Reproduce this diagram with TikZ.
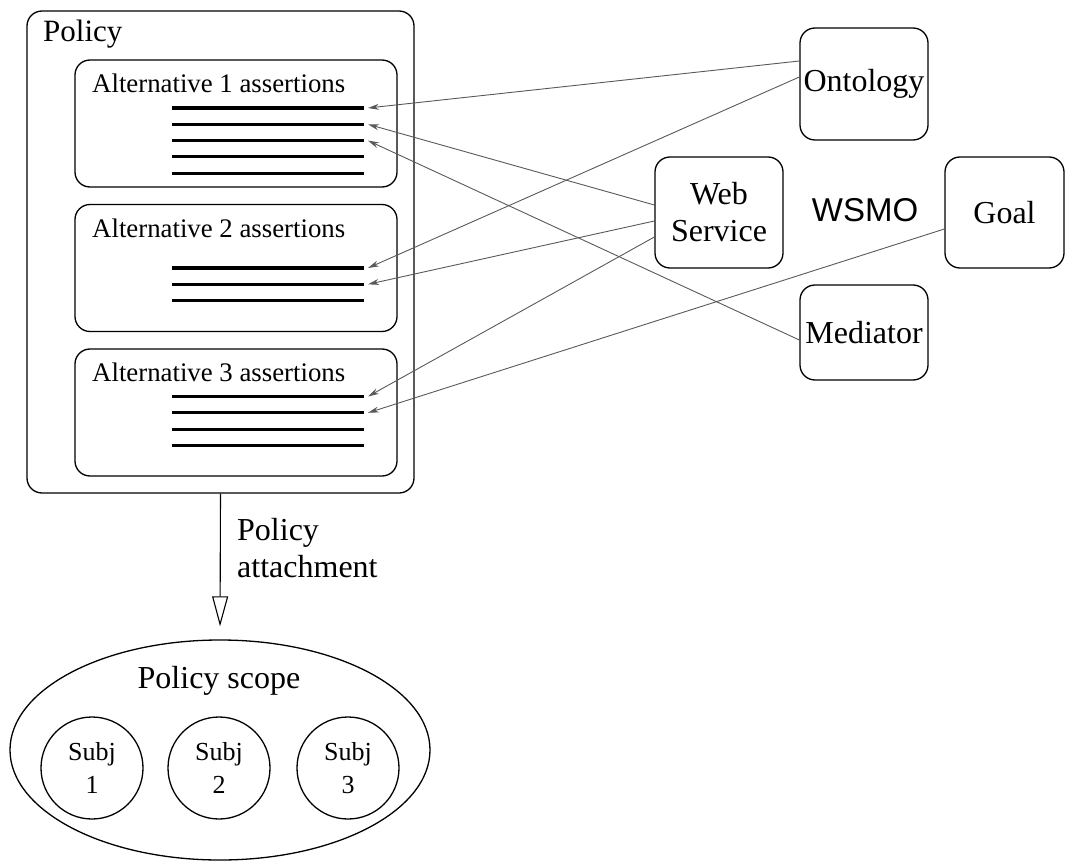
\documentclass[tikz,border=0pt]{standalone}
\usepackage{fontspec}
\setmainfont{Liberation Serif}
\newfontfamily\wsmofont{Liberation Sans}
\usetikzlibrary{arrows.meta,shapes.geometric}

\tikzset{
  rbox/.style={draw, rounded corners=15pt, line width=1.3pt, inner sep=0pt},
  bar/.style={line width=3.2pt},
  link/.style={draw=black!65, line width=0.9pt, -{Stealth[length=11pt,width=6pt]}},
  elem/.style={rbox, minimum width=128pt, font=\fontsize{32}{37}\selectfont, align=center},
  subj/.style={draw, circle, line width=1.3pt, minimum size=102pt, inner sep=0pt, align=center, font=\fontsize{26}{33}\selectfont},
  lbl/.style={anchor=base west, inner sep=0pt},
}

\begin{document}
\begin{tikzpicture}[x=1pt,y=-1pt]
\useasboundingbox (0,0) rectangle (1065,861);
% the policy and its three alternatives
\node[rbox, minimum width=387pt, minimum height=482pt] (policy) at (220.5,252) {};
\node[lbl, font=\fontsize{31}{36}\selectfont] (ptitle) at (43,42) {Policy};
\foreach \a/\y/\n/\f in {1/123.5/5/108, 2/268/3/268, 3/412.5/4/396.5} {
  \node[rbox, minimum width=322pt, minimum height=127pt] (alt\a) at (236,\y) {};
  \node[lbl, font=\fontsize{26.8}{30}\selectfont] (alttext\a) at (92,{\y-31}) {Alternative \a\ assertions};
  \foreach \i in {1,...,\n} {
    \draw[bar] (172,{\f+16.3*(\i-1)}) -- (364,{\f+16.3*(\i-1)}); % one assertion
    \coordinate (a\a-\i) at (368,{\f+16.3*(\i-1)});
  }
}
% WSMO elements
\node[elem, minimum height=112pt] (ont) at (864,84) {Ontology};
\node[elem, minimum height=111pt] (ws) at (719,212.5) {Web\\Service};
\node[elem, minimum width=119pt, minimum height=111pt] (goal) at (1004.5,212.5) {Goal};
\node[elem, minimum height=95pt] (med) at (864,332.5) {Mediator};
\node[font=\wsmofont\fontsize{33}{38}\selectfont] (wsmo) at (865,210) {WSMO};
% references into the assertions
\draw[link] ([yshift=23pt]ont.west) -- (a1-1);
\draw[link] ([yshift=7pt]ont.west) -- (a2-1);
\draw[link] ([yshift=7.5pt]ws.west) -- (a1-2);
\draw[link] ([yshift=-8.5pt]ws.west) -- (a2-2);
\draw[link] ([yshift=-24.5pt]ws.west) -- (a3-1);
\draw[link] ([yshift=-7.5pt]med.west) -- (a1-3);
\draw[link] ([yshift=-16.5pt]goal.west) -- (a3-2);
% policy scope with subjects
\node[draw, ellipse, line width=1.3pt, minimum width=420pt, minimum height=220pt, inner sep=0pt] (scope) at (220,750) {};
\node[anchor=base, inner sep=0pt, font=\fontsize{32}{37}\selectfont] (stitle) at (219,688) {Policy scope};
\foreach \s/\x in {1/92, 2/219, 3/348}
  \node[subj] (subj\s) at (\x,768) {Subj\\\s};
% attachment
\draw[line width=1.1pt, -{Triangle[open, length=30pt, width=16pt]}, shorten >=13pt] (policy.south) -- (scope.north);
\node[lbl, align=left, font=\fontsize{32}{37}\selectfont] (attach) at (237,577) {Policy\\attachment};
\end{tikzpicture}
\end{document}
